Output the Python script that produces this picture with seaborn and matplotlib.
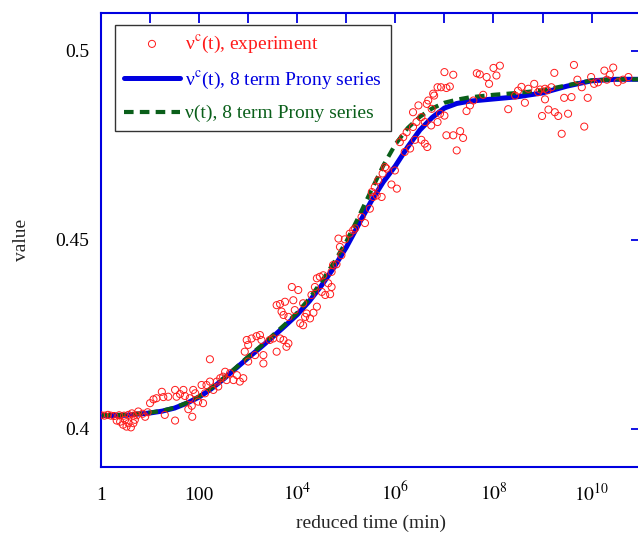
import numpy as np
import pandas as pd
import seaborn as sns
import matplotlib.pyplot as plt

# experiment points (log10 of reduced time, value)
log_t_exp = [
    0.00, 0.07, 0.14, 0.20, 0.27, 0.37, 0.47, 0.56, 0.66, 0.73,
    0.32, 0.39, 0.45, 0.49, 0.52, 0.56, 0.61, 0.66, 0.69,
    0.63, 0.76, 0.90, 0.85, 0.95,
    1.00, 1.07, 1.13, 1.24, 1.27, 1.37, 1.51, 1.54, 1.61, 1.68, 1.71, 1.81, 1.92, 2.05, 2.08, 1.98, 1.85,
    1.30, 1.51, 1.78, 1.86, 1.88, 2.12,
    2.15, 2.22, 2.29, 2.36, 2.39, 2.43, 2.49, 2.53, 2.56, 2.63, 2.70, 2.77, 2.83, 2.90, 2.22,
    3.00, 3.31,
    2.93, 2.97, 3.00, 3.07, 3.14, 3.17, 3.24, 3.27, 3.31, 3.44, 3.51, 3.58, 3.65, 3.72, 3.78, 3.82,
    3.58, 3.65, 3.68, 3.72, 3.75, 3.82, 3.89, 3.92, 3.95, 4.02,
    4.06, 4.12, 4.12, 4.16, 4.19, 4.26, 4.29, 4.33, 4.36, 4.40, 4.40, 4.46, 4.50, 4.53, 4.57, 4.63,
    4.67, 4.70, 4.70, 4.73, 4.80, 4.84, 4.87, 4.90,
    4.97, 5.07, 5.14, 5.18, 5.31, 5.38, 5.48, 5.52, 5.55, 5.58, 5.62, 5.65, 5.72, 5.74, 5.79, 5.82,
    5.92, 5.99, 6.03,
    6.09, 6.16, 6.19, 6.23, 6.30, 6.36, 6.36, 6.40, 6.43, 6.47, 6.53, 6.53, 6.60, 6.60, 6.64, 6.65,
    6.67, 6.73, 6.74, 6.77, 6.79, 6.86, 6.86, 6.91, 6.93, 7.00, 7.00, 7.04, 7.11,
    7.04, 7.18, 7.25, 7.32, 7.38, 7.18, 7.45, 7.52, 7.59, 7.66, 7.72, 7.79, 7.86, 7.91, 8.00, 8.06, 8.13,
    8.30, 8.44, 8.50, 8.57, 8.64, 8.71, 8.83, 8.91, 8.95, 8.99, 9.05, 9.05, 9.10, 9.12, 9.18, 9.24,
    9.25, 9.32, 9.39, 9.44, 9.52, 9.59, 9.64, 9.71, 9.80, 9.85, 9.92, 9.99,
    10.05, 10.13, 10.26, 10.31, 10.37, 10.44, 10.53, 10.64, 10.75,
]
value_exp = [
    0.4036, 0.4035, 0.4037, 0.4035, 0.4034, 0.4036, 0.4035, 0.4037, 0.4035, 0.4036,
    0.4022, 0.4019, 0.4011, 0.4024, 0.4006, 0.4015, 0.4004, 0.4015, 0.4024,
    0.4041, 0.4046, 0.4032, 0.4040, 0.4044,
    0.4068, 0.4078, 0.4081, 0.4098, 0.4084, 0.4085, 0.4103, 0.4085, 0.4092, 0.4103, 0.4087, 0.4081, 0.4094, 0.4116, 0.4068, 0.4072, 0.4061,
    0.4037, 0.4022, 0.4052, 0.4032, 0.4103, 0.4094,
    0.4116, 0.4125, 0.4103, 0.4125, 0.4112, 0.4134, 0.4138, 0.4151, 0.4129, 0.4147, 0.4129, 0.4142, 0.4125, 0.4134, 0.4184,
    0.4178, 0.4173,
    0.4204, 0.4235, 0.4222, 0.4239, 0.4195, 0.4245, 0.4248, 0.4235, 0.4195, 0.4235, 0.4239, 0.4204, 0.4239, 0.4235, 0.4217, 0.4226,
    0.4327, 0.4330, 0.4310, 0.4301, 0.4336, 0.4296, 0.4375, 0.4340, 0.4314, 0.4367,
    0.4279, 0.4274, 0.4332, 0.4296, 0.4305, 0.4292, 0.4354, 0.4307, 0.4375, 0.4323, 0.4398, 0.4402, 0.4362, 0.4406, 0.4354, 0.4385,
    0.4356, 0.4375, 0.4415, 0.4433, 0.4435, 0.4503, 0.4481, 0.4459,
    0.4501, 0.4516, 0.4525, 0.4530, 0.4560, 0.4544, 0.4582, 0.4626, 0.4613, 0.4639, 0.4617, 0.4657, 0.4613, 0.4675, 0.4692, 0.4688,
    0.4646, 0.4683, 0.4635,
    0.4758, 0.4771, 0.4732, 0.4784, 0.4741, 0.4798, 0.4837, 0.4764, 0.4811, 0.4855, 0.4764, 0.4824, 0.4754, 0.4811, 0.4859, 0.4745,
    0.4868, 0.4802, 0.4846, 0.4886, 0.4881, 0.4903, 0.4811, 0.4833, 0.4903, 0.4828, 0.4943, 0.4901, 0.4905,
    0.4776, 0.4776, 0.4736, 0.4787, 0.4769, 0.4936, 0.4840, 0.4855, 0.4868, 0.4940, 0.4937, 0.4883, 0.4930, 0.4912, 0.4954, 0.4934, 0.4960,
    0.4845, 0.4881, 0.4894, 0.4904, 0.4862, 0.4899, 0.4912, 0.4890, 0.4897, 0.4827, 0.4899, 0.4871, 0.4895, 0.4844, 0.4903, 0.4941,
    0.4837, 0.4827, 0.4780, 0.4875, 0.4833, 0.4877, 0.4962, 0.4923, 0.4903, 0.4799, 0.4875, 0.4930,
    0.4912, 0.4916, 0.4947, 0.4923, 0.4936, 0.4955, 0.4916, 0.4923, 0.4930,
]

# 8 term Prony series fits
log_t_fit = [0.0, 0.5, 1.0, 1.25, 1.5, 1.75, 2.0, 2.25, 2.5, 2.75, 3.0, 3.25, 3.5, 3.75, 4.0, 4.25,
             4.5, 4.75, 5.0, 5.25, 5.5, 5.75, 6.0, 6.25, 6.5, 6.75, 7.0, 7.25, 7.5, 8.0, 8.5, 9.0,
             9.5, 10.0, 10.5, 11.0]
nu_c_fit = [0.4035, 0.4036, 0.4042, 0.4047, 0.4055, 0.4068, 0.4084, 0.4106, 0.4132, 0.4160, 0.4188,
            0.4215, 0.4243, 0.4272, 0.4302, 0.4338, 0.4380, 0.4427, 0.4480, 0.4540, 0.4600, 0.4652,
            0.4695, 0.4745, 0.4790, 0.4823, 0.4848, 0.4860, 0.4866, 0.4872, 0.4878, 0.4888, 0.4906,
            0.4920, 0.4924, 0.4924]
nu_fit = [0.4036, 0.4037, 0.4043, 0.4048, 0.4056, 0.4069, 0.4086, 0.4108, 0.4134, 0.4162, 0.4191,
          0.4218, 0.4247, 0.4276, 0.4307, 0.4345, 0.4390, 0.4440, 0.4495, 0.4560, 0.4628, 0.4695,
          0.4752, 0.4795, 0.4825, 0.4847, 0.4862, 0.4870, 0.4876, 0.4883, 0.4888, 0.4895, 0.4908,
          0.4921, 0.4924, 0.4924]

xtick_exponents = list(range(0, 12))
xtick_labels = ["1", "", "100", "", "$10^4$", "", "$10^6$", "", "$10^8$", "", "$10^{10}$", ""]
ytick_values = [0.4, 0.45, 0.5]
ytick_labels = ["0.4", "0.45", "0.5"]

labels = ["ν$^{\\mathrm{c}}$(t), experiment",
          "ν$^{\\mathrm{c}}$(t), 8 term Prony series",
          "ν(t), 8 term Prony series"]
colors = ["#ff1a1a", "#0000e0", "#0a5f1a"]

exp_df = pd.DataFrame({"t": 10.0 ** np.array(log_t_exp), "value": value_exp})
fit_df = pd.DataFrame({"t": 10.0 ** np.array(log_t_fit), "nu_c": nu_c_fit, "nu": nu_fit})

sns.set_style("white")
plt.rcParams["font.family"] = ["Liberation Serif", "DejaVu Serif"]
plt.rcParams["mathtext.fontset"] = "stix"
plt.rcParams["font.size"] = 14

fig = plt.figure(figsize=(6.38, 5.34), dpi=100)
ax = fig.add_axes([0.1583, 0.126, 0.8459, 0.8502])

sns.lineplot(data=fit_df, x="t", y="nu_c", color=colors[1], linewidth=3.6, ax=ax,
             label=labels[1], zorder=2)
sns.lineplot(data=fit_df, x="t", y="nu", color=colors[2], linewidth=3.0, ax=ax,
             label=labels[2], zorder=2.5, linestyle=(0, (2.3, 1.5)))
sns.scatterplot(data=exp_df, x="t", y="value", marker="o", s=26, facecolors="none",
                edgecolors=colors[0], linewidth=0.7, ax=ax, label=labels[0], zorder=3)

ax.set_xscale("log")
ax.set_xlim(1, 1e11)
ax.set_ylim(0.39, 0.51)
ax.set_xticks([10.0 ** e for e in xtick_exponents])
ax.set_xticklabels(xtick_labels)
ax.minorticks_off()
ax.set_yticks(ytick_values)
ax.set_yticklabels(ytick_labels)

for s in ax.spines.values():
    s.set_color("#0000e0")
    s.set_linewidth(1.5)
ax.tick_params(direction="in", length=7, width=1.3, colors="#0000e0", labelcolor="black",
               labelsize=14, top=True, right=True)
ax.tick_params(axis="y", pad=8.5)
ax.tick_params(axis="x", pad=24)
plt.setp(ax.get_xticklabels(), va="baseline")

ax.set_xlabel("reduced time (min)", fontsize=14)
ax.set_ylabel("value", fontsize=14)
ax.xaxis.set_label_coords(0.5, -0.105)
ax.yaxis.set_label_coords(-0.132, 0.5)

# legend: experiment first, then the two fits
h, l = ax.get_legend_handles_labels()
order = [l.index(lab) for lab in labels]
leg = ax.legend([h[i] for i in order], labels, loc="upper left", bbox_to_anchor=(0.026, 0.973),
                borderaxespad=0, frameon=True, fancybox=False, edgecolor="black",
                fontsize=14, handlelength=2.9, handletextpad=0.25, borderpad=0.45,
                labelspacing=0.72, scatterpoints=1)
leg.get_frame().set_linewidth(1.0)
for txt, c in zip(leg.get_texts(), colors):
    txt.set_color(c)

fig.savefig("out.png", dpi=100)
